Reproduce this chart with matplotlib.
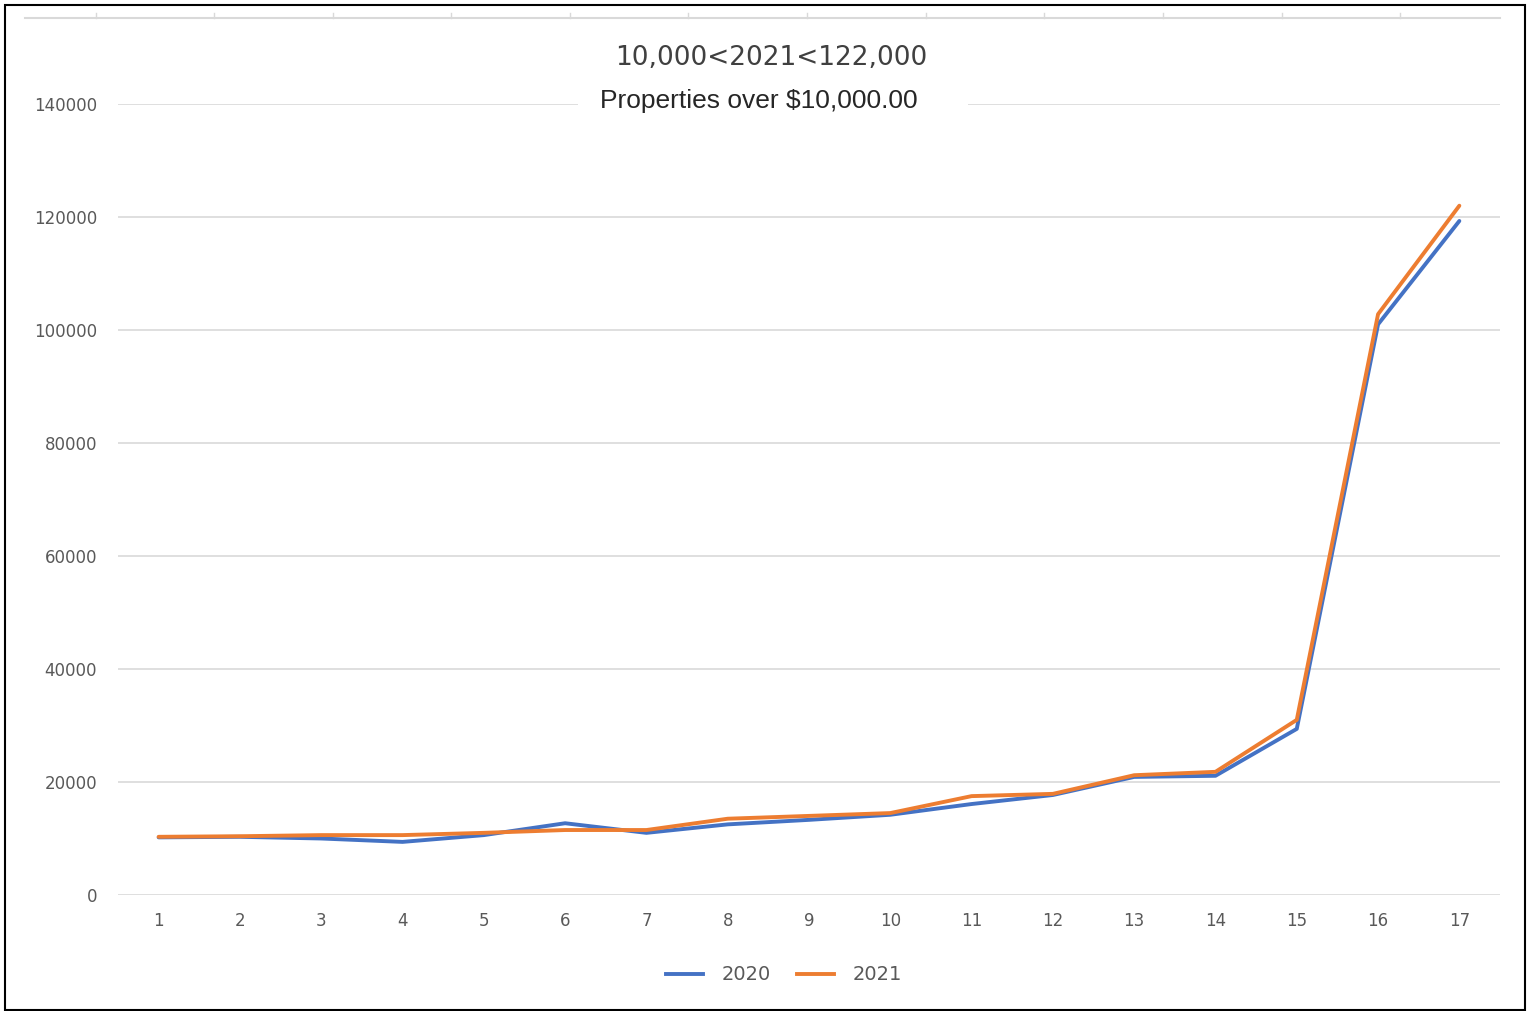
import matplotlib
matplotlib.use("Agg")
from matplotlib import pyplot as plt
from matplotlib.patches import Rectangle
from matplotlib.lines import Line2D

# data
labels = [str(i) for i in range(1, 18)]
y2020 = [10200, 10300, 10000, 9400, 10600, 12700, 11000, 12500, 13300,
         14200, 16100, 17700, 20900, 21100, 29400, 101000, 119300]
y2021 = [10300, 10400, 10600, 10600, 11000, 11500, 11500, 13500, 14000,
         14500, 17500, 17900, 21200, 21800, 31000, 102800, 122000]
yticks = [0, 20000, 40000, 60000, 80000, 100000, 120000, 140000]

W, H = 1533, 1011
fig = plt.figure(figsize=(W / 100, H / 100), dpi=100)

def fx(px):
    return px / W

def fy(py):
    return 1 - py / H

ax = fig.add_axes([fx(118), fy(895), fx(1500) - fx(118), fy(104) - fy(895)])
x = list(range(1, 18))
ax.plot(x, y2020, color="#4472C4", lw=2.8, solid_capstyle="round",
        solid_joinstyle="round", label="2020", zorder=3)
ax.plot(x, y2021, color="#ED7D31", lw=2.8, solid_capstyle="round",
        solid_joinstyle="round", label="2021", zorder=4)

ax.set_xlim(0.5, 17.5)
ax.set_ylim(0, 140000)
ax.set_yticks(yticks)
ax.set_yticklabels([str(v) for v in yticks])
ax.set_xticks(x)
ax.set_xticklabels(labels)
ax.grid(axis="y", color="#D9D9D9", lw=1.2)
ax.set_axisbelow(True)
for s in ax.spines.values():
    s.set_visible(False)
ax.tick_params(length=0, labelsize=12, labelcolor="#595959")
ax.tick_params(axis="y", pad=15)
ax.tick_params(axis="x", pad=12)

# white gap behind subtitle on the top gridline
fig.patches.append(Rectangle((fx(578), fy(118)), fx(968) - fx(578), fy(86) - fy(118),
                             transform=fig.transFigure, facecolor="white",
                             edgecolor="none", zorder=5))
fig.text(fx(771), fy(58), "10,000<2021<122,000", ha="center", va="center",
         fontsize=19, color="#404040", zorder=6)
fig.text(fx(759), fy(101), "Properties over $10,000.00", ha="center", va="center",
         fontsize=19, color="#262626", family="Liberation Sans", zorder=6)

# legend
handles = [Line2D([], [], color="#4472C4", lw=2.8),
           Line2D([], [], color="#ED7D31", lw=2.8)]
fig.legend(handles, ["2020", "2021"], loc="center", bbox_to_anchor=(fx(784), fy(975)),
           ncol=2, frameon=False, fontsize=14, labelcolor="#595959",
           handlelength=1.9, handletextpad=1.0, columnspacing=1.3)

# leftover strip of another chart at the top
fig.add_artist(Line2D([fx(25), fx(1500)], [fy(18), fy(18)], color="#D9D9D9", lw=1.5))
for px in [96, 214, 333, 451, 570, 688, 807, 926, 1044, 1163, 1282, 1400]:
    fig.add_artist(Line2D([fx(px), fx(px)], [fy(18), fy(13)], color="#D9D9D9", lw=1))

# black frame
fig.add_artist(Rectangle((fx(5), fy(1010)), fx(1525) - fx(5), fy(5) - fy(1010),
                         transform=fig.transFigure, fill=False,
                         edgecolor="black", lw=1.5))

fig.savefig("out.png", dpi=100)
